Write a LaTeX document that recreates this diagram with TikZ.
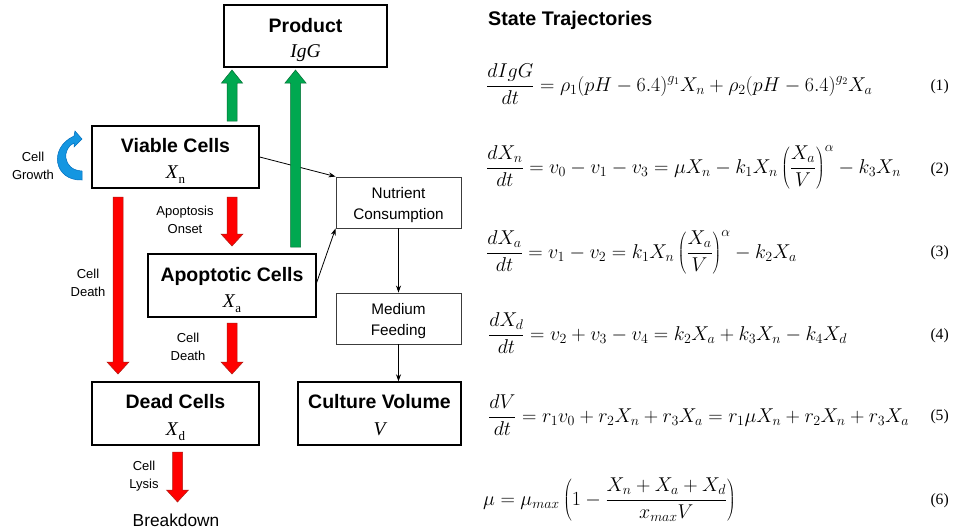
\RequirePackage{fix-cm}
\documentclass[tikz,border=0pt]{standalone}
\usepackage[no-math]{fontspec}
\setmainfont{Liberation Sans}
\newfontfamily\tnr{Liberation Serif}
\usetikzlibrary{arrows.meta,calc}
\definecolor{gfill}{RGB}{0,168,80}
\definecolor{gline}{RGB}{0,110,50}
\definecolor{rfill}{RGB}{255,0,0}
\definecolor{rline}{RGB}{170,30,20}
\definecolor{bfill}{RGB}{20,150,225}
\definecolor{bline}{RGB}{0,110,190}
\definecolor{thinbox}{RGB}{60,60,60}
\DeclareMathSizes{20}{20}{14}{10}
\newcommand{\fatdown}[5]{%
  \filldraw[fill=#4,draw=#5,line width=0.5pt] (#1-5,#2) -- (#1+5,#2) -- (#1+5,#3-12) -- (#1+11,#3-12) -- (#1,#3) -- (#1-11,#3-12) -- (#1-5,#3-12) -- cycle;}
\newcommand{\fatup}[5]{%
  \filldraw[fill=#4,draw=#5,line width=0.5pt] (#1-5,#2) -- (#1+5,#2) -- (#1+5,#3+13) -- (#1+10.5,#3+13) -- (#1,#3) -- (#1-10.5,#3+13) -- (#1-5,#3+13) -- cycle;}
\newcommand{\subs}[1]{\raisebox{-0.28em}{\upshape\fontsize{13}{13}\selectfont #1}}
\begin{document}
\begin{tikzpicture}[x=1pt,y=-1pt,
  mainbox/.style={draw=black,line width=1.4pt,minimum width=167pt,minimum height=62pt,inner sep=0pt},
  ttl/.style={anchor=base,inner sep=0pt,font=\fontsize{19.5}{22}\selectfont\bfseries},
  subt/.style={anchor=base,inner sep=0pt,font=\fontsize{19.5}{22}\selectfont\tnr\itshape},
  smallbox/.style={draw=thinbox,line width=0.9pt,minimum width=125pt,minimum height=51pt,inner sep=0pt},
  stxt/.style={align=center,inner sep=0pt,font=\fontsize{15.3}{21}\selectfont},
  lbl/.style={align=center,inner sep=0pt,font=\fontsize{13}{18}\selectfont},
  conn/.style={line width=0.8pt,-{Stealth[length=7pt,width=5pt]}},
  eqn/.style={anchor=base west,inner sep=0pt,font=\fontsize{20}{23}\selectfont},
  eqno/.style={anchor=east,inner sep=0pt,font=\tnr\fontsize{15.7}{18}\selectfont}]
\useasboundingbox (0,0) rectangle (955,531);
\fill[white] (0,0) rectangle (955,531);

% boxes
\node[mainbox,minimum width=163pt] (P) at (305.5,36) {};
\node[ttl] (Pt) at (305.5,32) {Product};
\node[subt] (Ps) at (305.5,57) {IgG};
\node[mainbox] (V) at (175.5,157) {};
\node[ttl] (Vt) at (175.5,152) {Viable Cells};
\node[subt] (Vs) at (175.5,178) {X\/\subs{n}};
\node[mainbox,minimum width=168pt,minimum height=63pt] (A) at (232,285.5) {};
\node[ttl] (At) at (232,281) {Apoptotic Cells};
\node[subt] (As) at (232,307) {X\/\subs{a}};
\node[mainbox,minimum height=63pt] (D) at (175.5,413.5) {};
\node[ttl] (Dt) at (175.5,408.5) {Dead Cells};
\node[subt] (Ds) at (175.5,435.5) {X\/\subs{d}};
\node[mainbox,minimum width=163pt,minimum height=63pt] (C) at (379.5,413.5) {};
\node[ttl] (Ct) at (379.5,408.5) {Culture Volume};
\node[subt] (Cs) at (379.5,435) {V};
\node[smallbox] (N) at (398.5,202.5) {};
\node[stxt] (Nt) at (398.5,205) {Nutrient\\Consumption};
\node[smallbox] (M) at (398.5,318.5) {};
\node[stxt] (Mt) at (398.5,321) {Medium\\Feeding};

% thin connectors
\draw[conn] (V.east) -- (N.north west);
\draw[conn] ($(A.east)+(0,-3)$) -- (N.south west);
\draw[conn] (N.south) -- (M.north);
\draw[conn] (M.south) -- (M.south |- C.north);

% fat arrows
\fatup{232}{121}{70}{gfill}{gline}
\fatup{295.5}{247}{70}{gfill}{gline}
\fatdown{118}{197}{374}{rfill}{rline}
\fatdown{232}{197}{246}{rfill}{rline}
\fatdown{232}{323}{374}{rfill}{rline}
\fatdown{177.5}{452}{502}{rfill}{rline}

% cell growth curved arrow
\filldraw[fill=bfill,draw=bline,line width=0.5pt]
  (82,180) .. controls (54,181) and (48,148) .. (74,136) -- (75,131) -- (82,139) -- (74,147) -- (74,143)
  .. controls (62,148) and (62,170) .. (82,171) -- cycle;

% labels
\node[lbl] (lg) at (33,166) {Cell\\Growth};
\node[lbl] (lao) at (185,219.5) {Apoptosis\\Onset};
\node[lbl] (ld1) at (88,283) {Cell\\Death};
\node[lbl] (ld2) at (188,347) {Cell\\Death};
\node[lbl] (ll) at (144,476) {Cell\\Lysis};
\node[inner sep=0pt,font=\fontsize{17.3}{20}\selectfont] (B) at (176,520) {Breakdown};

% right side
\node[anchor=west,inner sep=0pt,font=\fontsize{19.7}{22}\selectfont\bfseries] (T) at (488,20) {State Trajectories};

\node[eqn] (e1) at (486,91) {$\displaystyle \frac{dIgG}{dt}=\rho_1(pH-6.4)^{g_1}X_n+\rho_2(pH-6.4)^{g_2}X_a$};
\node[eqn] (e2) at (486,173) {$\displaystyle \frac{dX_n}{dt}=v_0-v_1-v_3=\mu X_n-k_1X_n\left(\frac{X_a}{V}\right)^{\alpha}-k_3X_n$};
\node[eqn] (e3) at (486,258) {$\displaystyle \frac{dX_a}{dt}=v_1-v_2=k_1X_n\left(\frac{X_a}{V}\right)^{\alpha}-k_2X_a$};
\node[eqn] (e4) at (488,340) {$\displaystyle \frac{dX_d}{dt}=v_2+v_3-v_4=k_2X_a+k_3X_n-k_4X_d$};
\node[eqn] (e5) at (488,422) {$\displaystyle \frac{dV}{dt}=r_1v_0+r_2X_n+r_3X_a=r_1\mu X_n+r_2X_n+r_3X_a$};
\node[eqn] (e6) at (483,505) {$\displaystyle \mu=\mu_{max}\left(1-\frac{X_n+X_a+X_d}{x_{max}V}\right)$};

\node[eqno] (n1) at (949,87) {(1)};
\node[eqno] (n2) at (949,170) {(2)};
\node[eqno] (n3) at (949,253) {(3)};
\node[eqno] (n4) at (949,336) {(4)};
\node[eqno] (n5) at (949,417) {(5)};
\node[eqno] (n6) at (949,501) {(6)};
\end{tikzpicture}
\end{document}
